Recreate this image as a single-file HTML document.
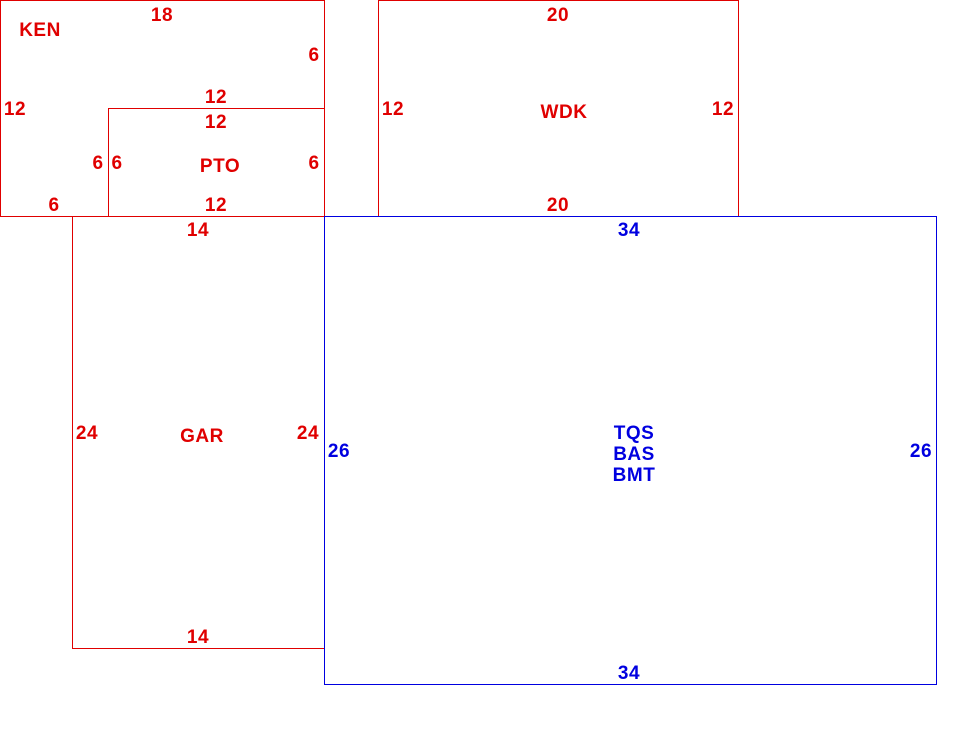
<!DOCTYPE html>
<html><head><meta charset="utf-8"><style>
html,body{margin:0;padding:0;background:#fff;}
svg text{font-family:"Liberation Sans",sans-serif;font-weight:bold;font-size:19px;letter-spacing:0.5px;text-anchor:middle;dominant-baseline:central;}
.r{fill:#e00000;} .b{fill:#0000e0;}
</style></head><body>
<svg width="980" height="742" xmlns="http://www.w3.org/2000/svg">
<g fill="none" stroke-width="1" shape-rendering="crispEdges">
<rect x="0.5" y="0.5" width="324" height="216" stroke="#e00000"/>
<rect x="108.5" y="108.5" width="216" height="108" stroke="#e00000"/>
<rect x="378.5" y="0.5" width="360" height="216" stroke="#e00000"/>
<rect x="72.5" y="216.5" width="252" height="432" stroke="#e00000"/>
<rect x="324.5" y="216.5" width="612" height="468" stroke="#0000e0"/>
</g>
<g class="r" transform="translate(0,1.5)">
<text x="162" y="14">18</text>
<text x="40" y="29">KEN</text>
<text x="314" y="54">6</text>
<text x="15" y="108">12</text>
<text x="216" y="96">12</text>
<text x="216" y="121">12</text>
<text x="98" y="162">6</text>
<text x="117" y="162">6</text>
<text x="220" y="165">PTO</text>
<text x="314" y="162">6</text>
<text x="54" y="204">6</text>
<text x="216" y="204">12</text>
<text x="558" y="14">20</text>
<text x="393" y="108">12</text>
<text x="564" y="111">WDK</text>
<text x="723" y="108">12</text>
<text x="558" y="204">20</text>
<text x="198" y="229">14</text>
<text x="87" y="432">24</text>
<text x="202" y="435">GAR</text>
<text x="308" y="432">24</text>
<text x="198" y="636">14</text>
</g>
<g class="b" transform="translate(0,1.5)">
<text x="629" y="229">34</text>
<text x="339" y="450">26</text>
<text x="634" y="432">TQS</text>
<text x="634" y="453">BAS</text>
<text x="634" y="474">BMT</text>
<text x="921" y="450">26</text>
<text x="629" y="672">34</text>
</g>
</svg>
</body></html>
